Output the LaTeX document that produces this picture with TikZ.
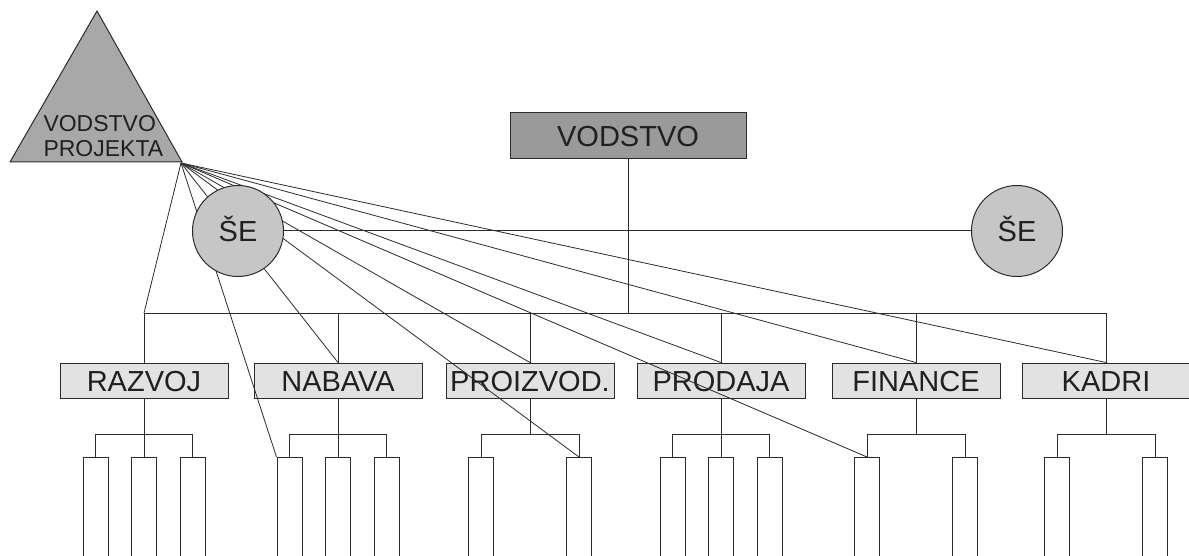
\documentclass[tikz,border=0pt]{standalone}
\usepackage{fontspec}
\setmainfont{Liberation Sans}
\definecolor{txt}{HTML}{231F20}
\definecolor{ln}{HTML}{2B2B2B}
\definecolor{trif}{HTML}{A8A8A8}
\definecolor{vodf}{HTML}{9A9A9A}
\definecolor{sef}{HTML}{C6C6C6}
\definecolor{depf}{HTML}{E2E2E2}
\begin{document}
\begin{tikzpicture}[x=1pt,y=-1pt,line width=1pt,
  every node/.style={text=txt},
  big/.style={font=\fontsize{29}{30}\selectfont,text height=21pt,text depth=0pt},
  dept/.style={big,draw=ln,fill=depf,minimum width=168pt,minimum height=35pt,inner sep=0pt},
  sub/.style={draw=ln,fill=white,minimum width=25pt,minimum height=110pt,inner sep=0pt,anchor=north},
  wire/.style={draw=ln,line width=1pt},
  ray/.style={draw=ln,line width=0.8pt},
  se/.style={big,circle,draw=ln,fill=sef,minimum size=91pt,inner sep=0pt}]
\useasboundingbox (0,0) rectangle (1189,556);
\clip (0,0) rectangle (1189,556);

% project management triangle
\draw[draw=ln,fill=trif] (97,11) -- (182,162) -- (10,162) -- cycle;
\coordinate (pr) at (181,163);
\node[anchor=west,align=left,font=\fontsize{23}{25}\selectfont,inner sep=0pt] (vp) at (43,136) {VODSTVO\\PROJEKTA};

% top management
\node[big,draw=ln,fill=vodf,minimum width=236pt,minimum height=46pt,inner sep=0pt] (vod) at (628,136) {VODSTVO};

% departments
\node[dept] (d1) at (144,380.5) {RAZVOJ};
\node[dept] (d2) at (338,380.5) {NABAVA};
\node[dept] (d3) at (530,380.5) {PROIZVOD.};
\node[dept] (d4) at (721,380.5) {PRODAJA};
\node[dept] (d5) at (916,380.5) {FINANCE};
\node[dept] (d6) at (1106,380.5) {KADRI};

% bus
\coordinate (bus) at (628,313);
\draw[wire] (vod.south) -- (bus);
\foreach \i in {1,...,6} \coordinate (j\i) at (d\i.north |- bus);
\draw[wire] (j1) -- (j6);
\foreach \i in {1,...,6} \draw[wire] (j\i) -- (d\i.north);

% sub units
\node[sub] (s11) at (95.5,457) {};
\node[sub] (s12) at (144,457) {};
\node[sub] (s13) at (192.5,457) {};
\node[sub] (s21) at (289.5,457) {};
\node[sub] (s22) at (338,457) {};
\node[sub] (s23) at (386.5,457) {};
\node[sub] (s31) at (481,457) {};
\node[sub] (s32) at (579,457) {};
\node[sub] (s41) at (672.5,457) {};
\node[sub] (s42) at (721,457) {};
\node[sub] (s43) at (769.5,457) {};
\node[sub] (s51) at (867,457) {};
\node[sub] (s52) at (965,457) {};
\node[sub] (s61) at (1057,457) {};
\node[sub] (s62) at (1155,457) {};

% brackets, three units
\foreach \i in {1,2,4}{
  \draw[wire] (d\i.south) -- (s\i2.north);
  \draw[wire] (s\i1.north) -- ++(0,-23) -| (s\i3.north);
}
% brackets, two units
\foreach \i in {3,5,6}{
  \draw[wire] (s\i1.north) -- ++(0,-23) coordinate (b\i) -| (s\i2.north);
  \draw[wire] (d\i.south) -- (d\i.south |- b\i);
}

% rays from project management
\foreach \t in {j1,s21.north west,d2.north,s32.north,d3.north,d4.north,s51.north,d5.north,d6.north}
  \draw[ray] (pr) -- (\t);

% staff units
\node[se] (se1) at (238,231) {ŠE};
\node[se] (se2) at (1017,231) {ŠE};
\draw[wire] (se1) -- (se2);
\end{tikzpicture}
\end{document}
